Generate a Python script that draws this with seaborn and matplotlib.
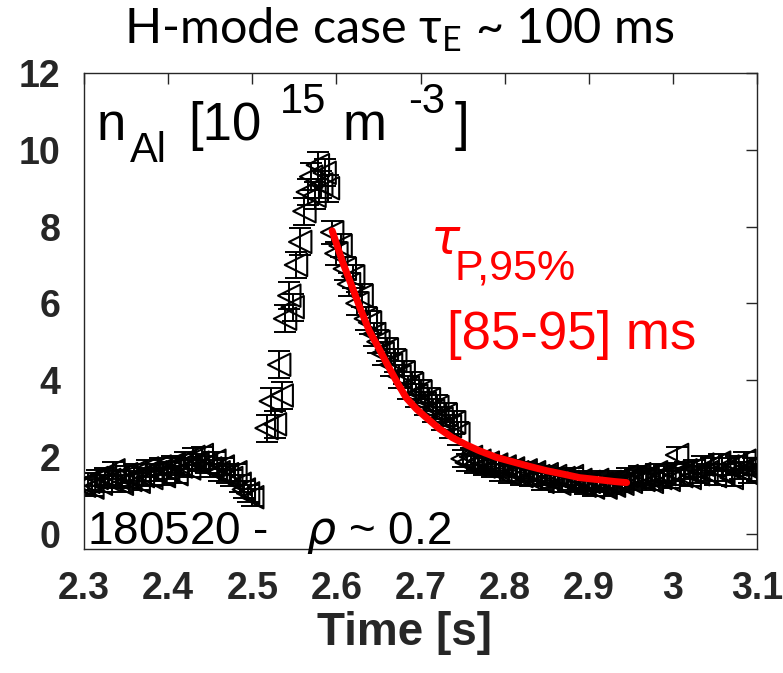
import numpy as np
import pandas as pd
import matplotlib
matplotlib.use("Agg")
import matplotlib.pyplot as plt
import seaborn as sns

# ---------------- data ----------------
T_BASE = [2.300, 2.305, 2.310, 2.315, 2.320, 2.325, 2.330, 2.335, 2.340, 2.345,
          2.350, 2.355, 2.360, 2.365, 2.370, 2.375, 2.380, 2.385, 2.390, 2.395,
          2.400, 2.405, 2.410, 2.415, 2.420, 2.425, 2.430, 2.435, 2.440, 2.445,
          2.450, 2.455, 2.460, 2.465, 2.470, 2.475, 2.480, 2.485, 2.490, 2.495, 2.500]
N_BASE = [1.25, 1.35, 1.20, 1.45, 1.30, 1.50, 1.40, 1.65, 1.45, 1.30,
          1.55, 1.40, 1.60, 1.35, 1.50, 1.70, 1.45, 1.60, 1.75, 1.50,
          1.65, 1.80, 1.55, 1.75, 1.90, 1.70, 2.00, 1.85, 2.05, 1.80,
          1.70, 1.90, 1.60, 1.75, 1.55, 1.45, 1.60, 1.30, 1.15, 1.05, 0.95]

T_RISE = [2.517, 2.522, 2.527, 2.532, 2.535, 2.539, 2.544, 2.548, 2.552, 2.557,
          2.562, 2.566, 2.570, 2.574, 2.578, 2.582, 2.586, 2.590]
N_RISE = [2.75, 3.45, 2.85, 4.40, 3.60, 5.60, 6.20, 5.90, 7.00, 7.60,
          8.40, 8.90, 9.30, 8.80, 9.60, 9.10, 9.40, 9.00]

T_DECAY = [2.595, 2.600, 2.605, 2.610, 2.615, 2.620, 2.625, 2.630, 2.635, 2.640,
           2.645, 2.650, 2.655, 2.660, 2.665, 2.670, 2.675, 2.680, 2.685, 2.690,
           2.695, 2.700, 2.705, 2.710, 2.715, 2.720, 2.725, 2.730, 2.735, 2.740, 2.745]
N_DECAY = [7.85, 7.30, 7.50, 6.90, 6.50, 6.70, 6.00, 6.20, 5.60, 5.50,
           5.20, 5.00, 4.70, 4.80, 4.40, 4.50, 4.10, 4.20, 3.80, 3.90,
           3.60, 3.70, 3.40, 3.50, 3.20, 3.30, 3.00, 3.10, 2.80, 2.90, 2.60]

T_TAIL = [2.750, 2.755, 2.760, 2.765, 2.770, 2.775, 2.780, 2.785, 2.790, 2.795,
          2.800, 2.805, 2.810, 2.815, 2.820, 2.825, 2.830, 2.835, 2.840, 2.845,
          2.850, 2.855, 2.860, 2.865, 2.870, 2.875, 2.880, 2.885, 2.890, 2.895,
          2.900, 2.905, 2.910, 2.915, 2.920, 2.925, 2.930, 2.935, 2.940, 2.945,
          2.950, 2.955, 2.960, 2.965, 2.970, 2.975, 2.980, 2.985, 2.990, 2.995,
          3.000, 3.005, 3.010, 3.015, 3.020, 3.025, 3.030, 3.035, 3.040, 3.045,
          3.050, 3.055, 3.060, 3.065, 3.070, 3.075, 3.080, 3.085, 3.090, 3.095, 3.100]
N_TAIL = [1.95, 1.85, 2.00, 1.80, 1.90, 1.75, 1.85, 1.70, 1.80, 1.60,
          1.75, 1.55, 1.70, 1.60, 1.50, 1.65, 1.45, 1.60, 1.50, 1.35,
          1.55, 1.40, 1.50, 1.30, 1.45, 1.35, 1.50, 1.30, 1.40, 1.25,
          1.35, 1.20, 1.40, 1.30, 1.20, 1.35, 1.25, 1.40, 1.30, 1.50,
          1.35, 1.45, 1.55, 1.40, 1.50, 1.35, 1.60, 1.45, 1.55, 1.40,
          1.60, 2.05, 1.50, 1.65, 1.45, 1.70, 1.55, 1.80, 1.60, 1.75,
          1.50, 1.85, 1.60, 1.75, 1.45, 1.80, 1.65, 1.90, 1.55, 1.75, 1.60]

# error bar half-heights per segment (base, rise, decay, tail)
ERR_SEG = [0.22, 0.35, 0.30, 0.22]

# exponential fit curve (red)
FIT_T = [2.595, 2.607, 2.619, 2.629, 2.639, 2.650, 2.660, 2.672, 2.683, 2.695,
         2.707, 2.722, 2.738, 2.754, 2.770, 2.790, 2.810, 2.830, 2.850, 2.870,
         2.889, 2.910, 2.930, 2.945]
FIT_N = [7.89, 7.10, 6.41, 5.83, 5.29, 4.85, 4.43, 3.95, 3.54, 3.25,
         3.02, 2.74, 2.50, 2.32, 2.16, 1.99, 1.87, 1.75, 1.64, 1.55,
         1.46, 1.41, 1.36, 1.33]

X_TICKS = [2.3, 2.4, 2.5, 2.6, 2.7, 2.8, 2.9, 3.0, 3.1]
X_TICKLABELS = ["2.3", "2.4", "2.5", "2.6", "2.7", "2.8", "2.9", "3", "3.1"]
Y_TICKS = [0, 2, 4, 6, 8, 10, 12]

# ---------------- build table ----------------
segs = [(T_BASE, N_BASE), (T_RISE, N_RISE), (T_DECAY, N_DECAY), (T_TAIL, N_TAIL)]
rows = []
for (ts, ns), e in zip(segs, ERR_SEG):
    for t, n in zip(ts, ns):
        rows.append((t, n, e))
df = pd.DataFrame(rows, columns=["t", "n", "err"])
fit = pd.DataFrame({"t": FIT_T, "n": FIT_N})

# ---------------- style ----------------
sns.set_theme(style="white")
plt.rcParams["font.family"] = ["Liberation Sans", "DejaVu Sans"]
plt.rcParams["mathtext.fontset"] = "dejavusans"

W, H = 783, 673
fig = plt.figure(figsize=(W / 100, H / 100), dpi=100)
ax = fig.add_axes([0.1073, 0.1842, 0.8595, 0.7073])

ax.errorbar(df["t"], df["n"], yerr=df["err"], fmt="none", ecolor="black",
            elinewidth=1.4, capsize=8, capthick=1.4, zorder=2)
sns.scatterplot(data=df, x="t", y="n", marker="<", s=260, facecolors="none",
                edgecolor="black", linewidth=1.5, ax=ax, zorder=3, legend=False)
sns.lineplot(data=fit, x="t", y="n", color="red", linewidth=5, sort=False,
             estimator=None, ax=ax, zorder=4)

ax.set_xlim(2.3, 3.1)
ax.set_ylim(-0.4, 12)
ax.set_xticks(X_TICKS)
ax.set_xticklabels(X_TICKLABELS)
ax.set_yticks(Y_TICKS)
ax.set_xlabel("")
ax.set_ylabel("")
ax.tick_params(direction="in", length=8, width=1, top=True, right=True,
               colors="#262626", labelsize=27, pad=16)
ax.tick_params(axis="y", pad=17)
for lab in ax.get_xticklabels() + ax.get_yticklabels():
    lab.set_fontweight("bold")
for sp in ax.spines.values():
    sp.set_color("#262626")
    sp.set_linewidth(1.0)

# helper: place text by reference pixel position (left, baseline)
def ptext(px, py, s, size, color="black", **kw):
    fig.text(px / W, 1 - py / H, s, fontsize=size, color=color,
             ha="left", va="baseline", **kw)

# title
fig.text(0.51, 0.955, "H-mode case τ$_{\\mathregular{E}}$ ~ 100 ms", ha="center",
         va="center", fontsize=35, family=["Lato", "DejaVu Sans"],
         fontweight="normal", color="black")
fig.text(0.517, 0.060, "Time [s]", ha="center", va="center", fontsize=33,
         fontweight="bold", color="#262626")

# n_Al [10^15 m^-3] label pieces
ptext(97, 140, "n", 38)
ptext(130, 162, "Al", 30)
ptext(188, 140, "[10", 38)
ptext(280, 113, "15", 30)
ptext(343, 140, "m", 38)
ptext(408, 113, "-3", 30)
ptext(455, 140, "]", 38)

ax.text(2.3036, -0.26, "180520 -   $\\rho$ ~ 0.2", fontsize=33, color="black",
        va="baseline", ha="left", zorder=5)
ax.text(2.7107, 7.29, "$\\tau$", fontsize=35, color="red", va="baseline", ha="left")
ax.text(2.7405, 6.61, "P,95%", fontsize=31, color="red", va="baseline", ha="left")
ax.text(2.731, 4.82, "[85-95] ms", fontsize=38, color="red", va="baseline", ha="left")

fig.savefig("out.png", dpi=100, facecolor="white")
